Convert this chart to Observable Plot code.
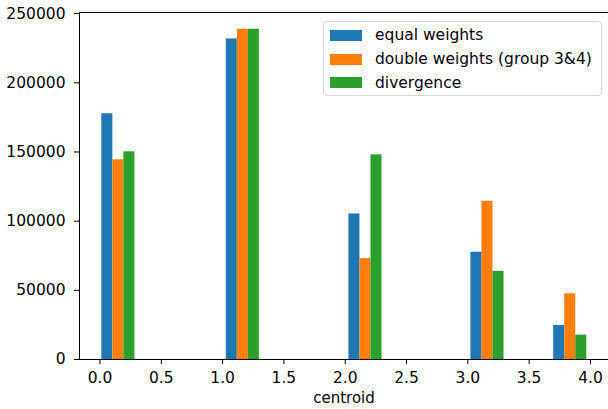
<!DOCTYPE html>
<html>
<head>
<meta charset="utf-8">
<script src="https://cdn.jsdelivr.net/npm/d3@7"></script>
<script src="https://cdn.jsdelivr.net/npm/@observablehq/plot@0.6"></script>
<style>
  html, body { margin: 0; padding: 0; background: #fff; overflow: hidden; }
  #wrap { position: relative; width: 608px; height: 409px; font-family: "DejaVu Sans", sans-serif; }
  #legend {
    position: absolute; left: 323px; top: 21px; width: 279px; height: 75px;
    box-sizing: border-box; border: 1px solid #d6d6d6; border-radius: 4px;
    background: rgba(255,255,255,0.8); font-size: 15.5px; color: #000;
  }
  .row { position: absolute; left: 0; height: 20px; display: flex; align-items: center; white-space: nowrap; }
  .sw { width: 32px; height: 11px; margin-left: 6px; margin-right: 13px; }
</style>
</head>
<body>
<div id="wrap"></div>
<script>
// Data
const centroidX = [0.015, 1.03, 2.03, 3.025, 3.70]; // left edge of each bar group
const series = ["equal weights", "double weights (group 3&4)", "divergence"];
const equalWeights = [177600, 231700, 105200, 77500, 24600];
const doubleWeights = [144300, 238700, 72900, 114400, 47500];
const divergence = [150100, 238700, 147900, 63700, 17600];
const colors = ["#1f77b4", "#ff7f0e", "#2ca02c"];
const xTicks = [0, 0.5, 1, 1.5, 2, 2.5, 3, 3.5, 4];
const yTicks = [0, 50000, 100000, 150000, 200000, 250000];
const barW = 0.09;
const xDomain = [-0.167, 4.147];
const yDomain = [0, 250800];

const values = [equalWeights, doubleWeights, divergence];
const bars = [];
values.forEach((vals, si) => {
  vals.forEach((v, gi) => {
    const x1 = centroidX[gi] + si * barW;
    bars.push({series: series[si], x1, x2: x1 + barW, y: v});
  });
});

const chart = Plot.plot({
  width: 608,
  height: 409,
  marginLeft: 79,
  marginRight: 0,
  marginTop: 12,
  marginBottom: 50,
  style: {fontFamily: "DejaVu Sans, sans-serif", fontSize: "15.5px", color: "#000", background: "#fff"},
  x: {domain: xDomain},
  y: {domain: yDomain},
  color: {domain: series, range: colors},
  marks: [
    Plot.rectY(bars, {x1: "x1", x2: "x2", y: "y", fill: "series"}),
    Plot.ruleY([yDomain[0]], {stroke: "#000", strokeWidth: 1}),
    Plot.ruleY([yDomain[1]], {stroke: "#000", strokeWidth: 1}),
    Plot.ruleX([xDomain[0]], {stroke: "#000", strokeWidth: 1}),
    Plot.axisX(xTicks, {tickSize: 5, tickPadding: 7, tickFormat: d3.format(".1f"), label: null, stroke: "#000"}),
    Plot.axisY(yTicks, {tickSize: 5, tickPadding: 9, tickFormat: d3.format("d"), label: null, stroke: "#000"}),
    Plot.text(["centroid"], {frameAnchor: "bottom", dy: 43, fill: "#000", fontSize: 15})
  ]
});

const wrap = document.getElementById("wrap");
wrap.appendChild(chart);

const legend = document.createElement("div");
legend.id = "legend";
const rowCenters = [13, 37, 60.5];
series.forEach((s, i) => {
  const row = document.createElement("div");
  row.className = "row";
  row.style.top = (rowCenters[i] - 10) + "px";
  const sw = document.createElement("div");
  sw.className = "sw";
  sw.style.background = colors[i];
  const t = document.createElement("span");
  t.textContent = s;
  row.appendChild(sw);
  row.appendChild(t);
  legend.appendChild(row);
});
wrap.appendChild(legend);
</script>
</body>
</html>
